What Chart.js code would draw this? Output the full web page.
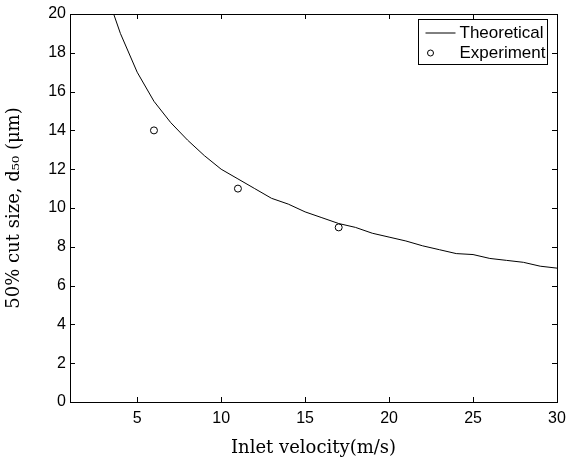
<!DOCTYPE html>
<html>
<head>
<meta charset="utf-8">
<script src="https://cdn.jsdelivr.net/npm/chart.js@4"></script>
<style>
  html, body { margin: 0; padding: 0; background: #fff; }
  #wrap { width: 567px; height: 459px; }
</style>
</head>
<body>
<div id="wrap"><canvas id="cutChart"></canvas></div>
<script>
// theoretical curve
const theoryVel = [3.6, 4, 5, 6, 7, 8, 9, 10, 11, 12, 13, 14, 15, 16, 17, 18, 19, 20, 21, 22, 23, 24, 25, 26, 27, 28, 29, 30];
const theoryD50 = [20, 19, 17, 15.5, 14.4, 13.5, 12.7, 12, 11.5, 11, 10.5, 10.2, 9.8, 9.5, 9.2, 9.0, 8.7, 8.5, 8.3, 8.05, 7.85, 7.65, 7.6, 7.4, 7.3, 7.2, 7.0, 6.9];
// measured points
const expVel = [6, 11, 17];
const expD50 = [14, 11, 9];
const xTicks = [5, 10, 15, 20, 25, 30];
const yTicks = [0, 2, 4, 6, 8, 10, 12, 14, 16, 18, 20];

const tickFont = { family: 'Liberation Sans, Arial, sans-serif', size: 16 };
const titleFont = { family: 'DejaVu Serif, serif', size: 18 };

const toPoints = (xs, ys) => xs.map((x, i) => ({ x: x, y: ys[i] }));

// matlab style inward ticks on all four sides + frame
const frameTicks = {
  id: 'frameTicks',
  afterDraw(chart) {
    const { ctx, chartArea: a, scales } = chart;
    const len = 5;
    ctx.save();
    ctx.strokeStyle = '#000';
    ctx.lineWidth = 1;
    ctx.beginPath();
    xTicks.forEach(v => {
      const px = Math.round(scales.x.getPixelForValue(v)) + 0.5;
      ctx.moveTo(px, a.bottom); ctx.lineTo(px, a.bottom - len);
      ctx.moveTo(px, a.top); ctx.lineTo(px, a.top + len);
    });
    yTicks.forEach(v => {
      const py = Math.round(scales.y.getPixelForValue(v)) + 0.5;
      ctx.moveTo(a.left, py); ctx.lineTo(a.left + len, py);
      ctx.moveTo(a.right, py); ctx.lineTo(a.right - len, py);
    });
    ctx.stroke();
    ctx.strokeRect(Math.round(a.left) + 0.5, Math.round(a.top) + 0.5,
      Math.round(a.right - a.left), Math.round(a.bottom - a.top));
    ctx.restore();
  }
};

// legend box inside the top right corner
const boxLegend = {
  id: 'boxLegend',
  afterDraw(chart) {
    const { ctx, chartArea: a } = chart;
    const w = 129, h = 45;
    const x0 = Math.round(a.right) - 10 - w + 0.5, y0 = Math.round(a.top) + 5 + 0.5;
    ctx.save();
    ctx.fillStyle = '#fff';
    ctx.fillRect(x0, y0, w, h);
    ctx.strokeStyle = '#000';
    ctx.lineWidth = 1;
    ctx.strokeRect(x0, y0, w, h);
    ctx.font = '17px ' + tickFont.family;
    ctx.fillStyle = '#000';
    ctx.textBaseline = 'middle';
    const ds = chart.data.datasets;
    // line entry
    ctx.beginPath();
    ctx.moveTo(x0 + 7, y0 + 13.5);
    ctx.lineTo(x0 + 37, y0 + 13.5);
    ctx.stroke();
    ctx.fillText(ds[0].label, x0 + 41, y0 + 14);
    // marker entry
    ctx.beginPath();
    ctx.arc(x0 + 12, y0 + 33.5, 3, 0, Math.PI * 2);
    ctx.stroke();
    ctx.fillText(ds[1].label, x0 + 41, y0 + 34);
    ctx.restore();
  }
};

new Chart(document.getElementById('cutChart').getContext('2d'), {
  type: 'scatter',
  data: {
    datasets: [
      {
        label: 'Theoretical',
        data: toPoints(theoryVel, theoryD50),
        showLine: true,
        borderColor: '#000',
        borderWidth: 1,
        pointRadius: 0,
        tension: 0
      },
      {
        label: 'Experiment',
        data: toPoints(expVel, expD50),
        showLine: false,
        borderColor: '#000',
        backgroundColor: '#fff',
        borderWidth: 1,
        pointRadius: 3.5
      }
    ]
  },
  options: {
    responsive: true,
    maintainAspectRatio: false,
    animation: false,
    layout: { padding: { left: 0, right: 10, top: 14, bottom: 0 } },
    plugins: {
      legend: { display: false },
      tooltip: { enabled: false }
    },
    scales: {
      x: {
        type: 'linear',
        min: 1,
        max: 30,
        afterBuildTicks: s => { s.ticks = xTicks.map(v => ({ value: v })); },
        afterFit: s => { s.height = 57; s.paddingLeft = 0; s.paddingRight = 0; },
        grid: { display: false, drawTicks: false },
        border: { display: false },
        ticks: { color: '#000', font: tickFont, padding: 7, maxRotation: 0 },
        title: {
          display: true,
          text: 'Inlet velocity(m/s)',
          color: '#000',
          font: titleFont,
          padding: { top: 3, bottom: 0 }
        }
      },
      y: {
        type: 'linear',
        min: 0,
        max: 20,
        afterBuildTicks: s => { s.ticks = yTicks.map(v => ({ value: v })); },
        afterFit: s => { s.width = 70; s.paddingTop = 0; s.paddingBottom = 0; },
        grid: { display: false, drawTicks: false },
        border: { display: false },
        ticks: { color: '#000', font: tickFont, padding: 4 },
        title: {
          display: true,
          text: '50% cut size, d₅₀ (μm)',
          color: '#000',
          font: titleFont,
          padding: { top: 4, bottom: 8 }
        }
      }
    }
  },
  plugins: [frameTicks, boxLegend]
});
</script>
</body>
</html>
